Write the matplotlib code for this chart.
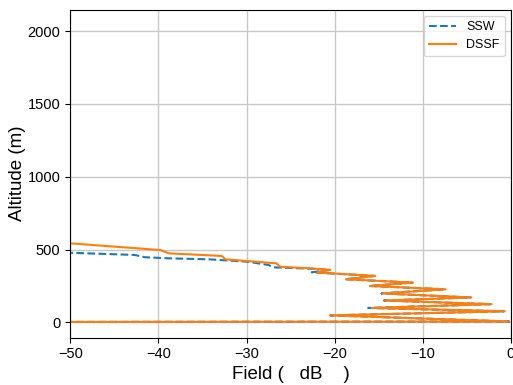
import numpy as np
import matplotlib
matplotlib.use("Agg")
import matplotlib.pyplot as plt

plt.rcParams['font.family'] = ['Liberation Sans', 'DejaVu Sans']

# DSSF field (dB) vs altitude (m)
dssf_field = [-100, -0.2, -20.5, -0.7, -15.8, -2.2, -14.3, -4.5, -14.6, -7.4,
              -16.0, -11.1, -18.7, -15.4, -22.0, -20.5, -22.8, -26.2, -26.6,
              -32.4, -32.8, -38.8, -39.8, -45.0, -50.0, -56.0]
dssf_alt = [0, 6, 48, 76, 99, 125, 150, 171, 199, 227,
            250, 273, 296, 319, 342, 361, 371, 382, 405,
            433, 456, 474, 497, 520, 543, 560]

# SSW field (dB) vs altitude (m)
ssw_field = [-100, -0.2, -20.5, -0.8, -16.2, -2.3, -14.4, -4.6, -14.7, -7.5,
             -16.1, -11.2, -18.8, -15.5, -22.6, -20.6, -22.5, -27.0, -27.5,
             -29.8, -34.3, -38.9, -41.5, -42.7, -50.0, -56.0]
ssw_alt = [0, 6, 48, 76, 99, 125, 150, 171, 199, 227,
           250, 273, 296, 319, 344, 360, 368, 378, 394,
           416, 433, 440, 447, 463, 478, 481]

fig = plt.figure(figsize=(5.13, 3.85), dpi=100)
ax = fig.add_axes([0.137, 0.123, 0.859, 0.852])

ax.plot(ssw_field, ssw_alt, '--', color='#1f77b4', label='SSW')
ax.plot(dssf_field, dssf_alt, '-', color='#ff7f0e', label='DSSF')

ax.set_xlim(-50, 0)
ax.set_ylim(-105, 2148)
ax.set_xticks([-50, -40, -30, -20, -10, 0])
ax.set_yticks([0, 500, 1000, 1500, 2000])
ax.grid(True, color='#c8c8c8', linewidth=1.0)
ax.tick_params(labelsize=10.5)

ax.set_xlabel('Field (   dB    )', fontsize=13.5, labelpad=3)
ax.set_ylabel('Altitude (m)', fontsize=13.5, labelpad=1)
ax.legend(loc='upper right', fontsize=9, handlelength=2.2)

fig.savefig('out.png', dpi=100)
